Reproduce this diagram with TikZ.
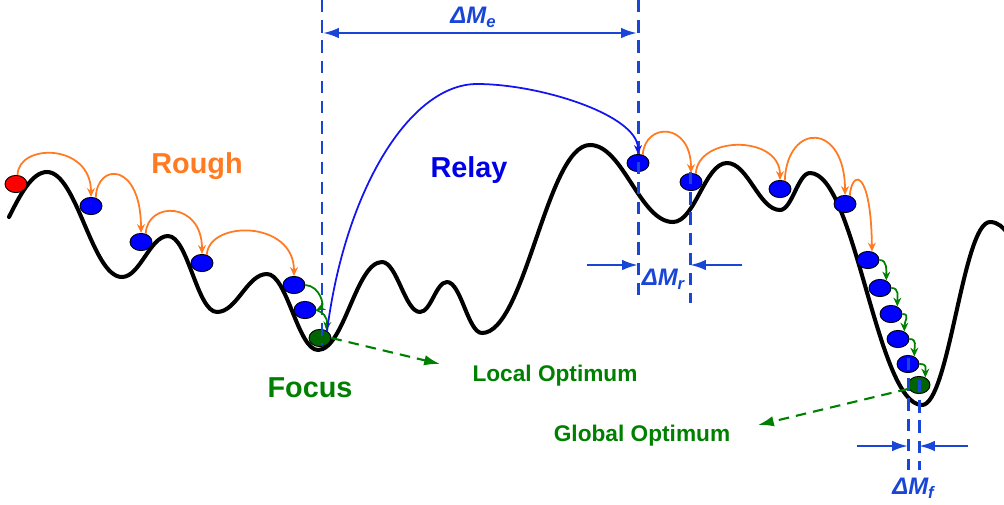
\documentclass[tikz,border=0pt]{standalone}
\usepackage{fontspec}
\setmainfont{Liberation Sans}
\usetikzlibrary{shapes.geometric,arrows.meta}

\definecolor{myorange}{RGB}{255,122,32}
\definecolor{txtblue}{RGB}{0,0,230}
\definecolor{ballblue}{RGB}{0,0,255}
\definecolor{mygreen}{RGB}{0,128,0}
\definecolor{darkgreen}{RGB}{0,100,0}
\definecolor{dimblue}{RGB}{25,70,215}
\definecolor{relayblue}{RGB}{20,20,240}

\newcommand{\dmlabel}[1]{ΔM\raisebox{-0.2em}{\fontsize{9.5}{10}\selectfont #1}}

\begin{document}
\begin{tikzpicture}[x=0.02cm,y=-0.02cm,
  ball/.style={ellipse,draw=black,line width=0.5pt,fill=ballblue,
    minimum width=0.44cm,minimum height=0.345cm,inner sep=0pt},
  jump/.style={myorange,line width=1pt,-{Stealth[length=5pt,width=4.5pt]}},
  fjump/.style={mygreen,line width=1pt,-{Stealth[length=5pt,width=4.5pt]}},
  rjump/.style={relayblue,line width=1pt,-{Stealth[length=5pt,width=4.5pt]}},
  vdash/.style={dimblue,line width=1.7pt,dash pattern=on 7pt off 4.5pt},
  dimarrow/.style={dimblue,line width=1.4pt},
  optarrow/.style={mygreen,line width=1.2pt,dash pattern=on 6pt off 4pt,-{Latex[length=9pt,width=6pt]}},
  big/.style={font=\fontsize{16.4}{19}\selectfont\bfseries,anchor=base},
  opt/.style={font=\fontsize{12.9}{15}\selectfont\bfseries,text=mygreen,anchor=base},
  dm/.style={font=\fontsize{13.6}{16}\selectfont\bfseries\itshape,text=dimblue,anchor=base},
]
\useasboundingbox (0,0) rectangle (1004,504);

% landscape
\draw[line width=2.3pt,line cap=round,line join=round]
  (9,217) .. controls (20,195) and (32,172) .. (47,172)
  .. controls (77,172) and (92,277) .. (122,277)
  .. controls (140,277) and (150,236) .. (168,236)
  .. controls (188,236) and (197,312) .. (217,312)
  .. controls (237,312) and (247,274) .. (267,274)
  .. controls (287,274) and (298,350) .. (318,350)
  .. controls (344,350) and (356,262) .. (382,262)
  .. controls (397,262) and (405,312) .. (420,312)
  .. controls (431,312) and (436,282) .. (447,282)
  .. controls (461,282) and (468,333) .. (482,333)
  .. controls (525,333) and (547,145) .. (590,145)
  .. controls (623,145) and (640,222) .. (673,222)
  .. controls (695,222) and (705,163) .. (727,163)
  .. controls (748,163) and (759,210) .. (780,210)
  .. controls (792,210) and (798,173) .. (810,173)
  .. controls (855,173) and (877,405) .. (922,405)
  .. controls (949,405) and (963,222) .. (990,222)
  .. controls (998,222) and (1004,228) .. (1008,234);

% balls
\node[ball,fill=red] (r0) at (16,184) {};
\node[ball] (b1) at (91,206) {};
\node[ball] (b2) at (141,242) {};
\node[ball] (b3) at (202,263) {};
\node[ball] (b4) at (294,285) {};
\node[ball] (b5) at (305,310) {};
\node[ball,fill=darkgreen] (g1) at (320,338) {};
\node[ball] (c1) at (638,163) {};
\node[ball] (c2) at (691,182) {};
\node[ball] (c3) at (780,189) {};
\node[ball] (c4) at (845,204) {};
\node[ball] (d1) at (868,260) {};
\node[ball] (d2) at (880,288) {};
\node[ball] (d3) at (891,314) {};
\node[ball] (d4) at (898,339) {};
\node[ball] (d5) at (908,364) {};
\node[ball,fill=darkgreen] (g2) at (919,385) {};

% free ends
\coordinate (lo) at (440,364);
\coordinate (go) at (758,425);
\coordinate (v1t) at (322,0);   \coordinate (v1b) at (322,345);
\coordinate (v2t) at (638,0);   \coordinate (v2b) at (638,303);
\coordinate (v3t) at (690,172); \coordinate (v3b) at (690,303);
\coordinate (v4t) at (908,358); \coordinate (v4b) at (908,470);
\coordinate (v5t) at (919,380); \coordinate (v5b) at (919,470);

% dashed guide lines
\draw[vdash] (v1t) -- (v1b);
\draw[vdash] (v2t) -- (v2b);
\draw[vdash] (v3t) -- (v3b);
\draw[vdash] (v4t) -- (v4b);
\draw[vdash] (v5t) -- (v5b);

% dimension arrows
\draw[dimarrow,{Latex[length=9pt,width=6pt]}-{Latex[length=9pt,width=6pt]}] (323,33) -- (637,33);
\coordinate (mrl) at (587,265); \coordinate (mrr) at (742,265);
\draw[dimarrow,-{Latex[length=9pt,width=6pt]}] (mrl) -- (v2t |- mrl);
\draw[dimarrow,-{Latex[length=9pt,width=6pt]}] (mrr) -- (v3t |- mrr);
\coordinate (mfl) at (857,446); \coordinate (mfr) at (968,446);
\draw[dimarrow,-{Latex[length=9pt,width=6pt]}] (mfl) -- (v4t |- mfl);
\draw[dimarrow,-{Latex[length=9pt,width=6pt]}] (mfr) -- (v5t |- mfr);

% rough jumps
\draw[jump] (r0.80) .. controls (18,143) and (91,143) .. (b1.north);
\draw[jump] (b1.60) .. controls (97,162) and (141,162) .. (b2.north);
\draw[jump] (b2.60) .. controls (147,201) and (202,201) .. (b3.north);
\draw[jump] (b3.60) .. controls (209,220) and (294,220) .. (b4.north);
\draw[jump] (c1.60) .. controls (645,122) and (691,122) .. (c2.north);
\draw[jump] (c2.60) .. controls (698,135) and (780,135) .. (c3.north);
\draw[jump] (c3.60) .. controls (787,122) and (845,122) .. (c4.north);
\draw[jump] (c4.60) .. controls (852,169) and (871,169) .. (d1.65);

% focus jumps
\draw[fjump] (b4.east) .. controls (320,286) and (325,306) .. (b5.east);
\draw[fjump] (b5.east) .. controls (322,312) and (328,316) .. (g1.50);
\draw[fjump] (d1.east) .. controls +(8,0) and +(0,-10) .. (d2.50);
\draw[fjump] (d2.east) .. controls +(8,0) and +(0,-10) .. (d3.50);
\draw[fjump] (d3.east) .. controls +(8,0) and +(0,-10) .. (d4.50);
\draw[fjump] (d4.east) .. controls +(8,0) and +(0,-10) .. (d5.50);
\draw[fjump] (d5.east) .. controls +(8,0) and +(0,-10) .. (g2.50);

% relay jump
\draw[rjump] (g1.45) .. controls (345,190) and (410,84) .. (477,84)
  .. controls (540,84) and (638,115) .. (c1.north);

% optimum arrows
\draw[optarrow] (g1.east) -- (lo);
\draw[optarrow] (g2.200) -- (go);

% labels
\node[big,text=myorange] (rough) at (197,173) {Rough};
\node[big,text=txtblue] (relay) at (469,177) {Relay};
\node[big,text=mygreen] (focus) at (310,397) {Focus};
\node[opt] (lopt) at (555,381) {Local Optimum};
\node[opt] (gopt) at (642,441) {Global Optimum};
\node[dm] (dme) at (473,23) {\dmlabel{e}};
\node[dm] (dmr) at (663,285) {\dmlabel{r}};
\node[dm] (dmf) at (913,494) {\dmlabel{f}};
\end{tikzpicture}
\end{document}
